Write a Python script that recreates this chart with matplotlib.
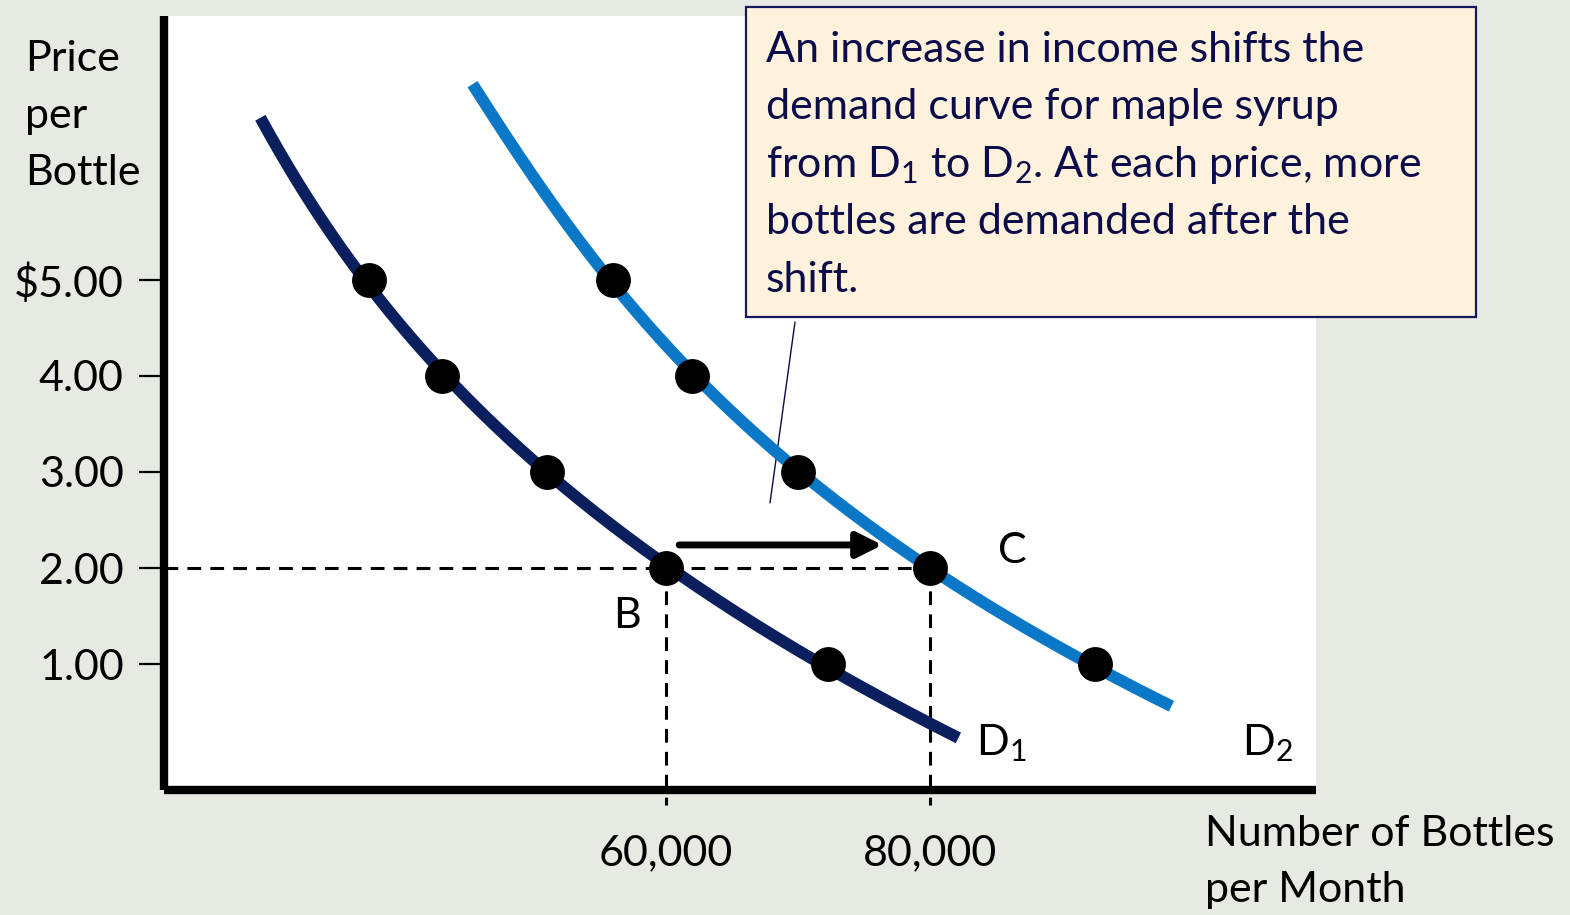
import numpy as np
import matplotlib
matplotlib.use("Agg")
import matplotlib.pyplot as plt
from matplotlib.patches import Rectangle

plt.rcParams['font.family'] = ['Lato', 'DejaVu Sans']
plt.rcParams['mathtext.fontset'] = 'custom'
plt.rcParams['mathtext.rm'] = 'Lato'
plt.rcParams['mathtext.it'] = 'Lato:italic'
plt.rcParams['mathtext.bf'] = 'Lato:bold'

# Demand schedules: price per bottle and bottles demanded per month
prices = [5.0, 4.0, 3.0, 2.0, 1.0]
d1_qty = [37500, 43000, 51000, 60000, 72300]
d2_qty = [56000, 62000, 70000, 80000, 92500]

# Traced shape of each demand curve (price, quantity) from end to end
d1_curve_price = [6.69, 5.0, 4.0, 3.0, 2.0, 1.0, 0.23]
d1_curve_qty = [29200, 37500, 43000, 51000, 60000, 72300, 81900]
d2_curve_price = [7.04, 5.0, 4.0, 3.0, 2.0, 1.0, 0.56]
d2_curve_qty = [45300, 56000, 62000, 70000, 80000, 92500, 98000]

y_ticks = [5.0, 4.0, 3.0, 2.0, 1.0]
y_tick_labels = ['$5.00', '4.00', '3.00', '2.00', '1.00']
x_ticks = [60000, 80000]
x_tick_labels = ['60,000', '80,000']

price_b = 2.0
qty_b = 60000
qty_c = 80000

callout_lines = [
    'An increase in income shifts the',
    'demand curve for maple syrup',
    r'from $\mathrm{D}_1$ to $\mathrm{D}_2$. At each price, more',
    'bottles are demanded after the',
    'shift.',
]

BG = '#e6eae3'
NAVY = '#0b1f5e'
BLUE = '#0a78c6'
TEXT_NAVY = '#0c0c4a'
FS = 31

W, H = 1570, 915
fig = plt.figure(figsize=(W / 100, H / 100), dpi=100, facecolor=BG)

left_px, right_px, bottom_px, top_px = 164, 1316, 790, 16
ax = fig.add_axes([left_px / W, (H - bottom_px) / H,
                   (right_px - left_px) / W, (bottom_px - top_px) / H])
ax.set_facecolor('white')
ax.set_xlim(21970, 109240)
ax.set_ylim(-0.3125, 7.75)

for s in ['top', 'right']:
    ax.spines[s].set_visible(False)
for s in ['left', 'bottom']:
    ax.spines[s].set_linewidth(6)
    ax.spines[s].set_color('black')
    ax.spines[s].set_capstyle('butt')

ax.set_yticks(y_ticks)
ax.set_yticklabels(y_tick_labels)
ax.tick_params(axis='y', length=18, width=1.6, pad=11, labelsize=FS,
               labelcolor='black', color='black')
ax.set_xticks(x_ticks)
ax.set_xticklabels(x_tick_labels)
ax.tick_params(axis='x', length=0, pad=32, labelsize=FS, labelcolor='black')


def smooth_curve(p_pts, q_pts):
    coeffs = np.polyfit(p_pts, q_pts, 3)
    p = np.linspace(max(p_pts), min(p_pts), 300)
    return np.polyval(coeffs, p), p


q1, p1 = smooth_curve(d1_curve_price, d1_curve_qty)
q2, p2 = smooth_curve(d2_curve_price, d2_curve_qty)
ax.plot(q1, p1, color=NAVY, lw=8.5, solid_capstyle='butt', zorder=3)
ax.plot(q2, p2, color=BLUE, lw=8.5, solid_capstyle='butt', zorder=3)

ax.scatter(d1_qty, prices, s=580, color='black', zorder=5)
ax.scatter(d2_qty, prices, s=580, color='black', zorder=5)

# Reference lines at the $2.00 price
dash = (0, (4.5, 3))
ax.plot([ax.get_xlim()[0], qty_c], [price_b, price_b], color='black',
        lw=2.2, linestyle=dash, zorder=2)
for q in (qty_b, qty_c):
    ax.plot([q, q], [price_b, -0.47], color='black', lw=2.2,
            linestyle=dash, zorder=2, clip_on=False)

# Rightward shift arrow
ax.annotate('', xy=(76400, 2.24), xytext=(61000, 2.24),
            arrowprops=dict(arrowstyle='-|>', lw=5, color='black',
                            mutation_scale=38, shrinkA=0, shrinkB=0),
            zorder=4)

ax.text(57050, 1.50, 'B', fontsize=FS, ha='center', va='center')
ax.text(86200, 2.18, 'C', fontsize=FS, ha='center', va='center')
ax.text(83500, 0.17, r'$\mathrm{D}_1$', fontsize=FS, ha='left', va='center')
ax.text(103600, 0.17, r'$\mathrm{D}_2$', fontsize=FS, ha='left', va='center')

# Pointer from the callout to the gap between the curves
ax.plot([69770, 67880], [4.56, 2.68], color=TEXT_NAVY, lw=1.0,
        zorder=2, clip_on=False)

# Axis titles
for i, line in enumerate(['Price', 'per', 'Bottle']):
    fig.text(25 / W, 1 - (59 + 57 * i) / H, line, fontsize=FS,
             ha='left', va='center')
for i, line in enumerate(['Number of Bottles', 'per Month']):
    fig.text(1205 / W, 1 - (834 + 56 * i) / H, line, fontsize=FS,
             ha='left', va='center')

# Callout box
bx0, by0, bx1, by1 = 746, 7, 1476, 317
fig.patches.append(Rectangle((bx0 / W, 1 - by1 / H), (bx1 - bx0) / W,
                             (by1 - by0) / H, transform=fig.transFigure,
                             facecolor='#fff2dc', edgecolor='#17185a',
                             lw=1.6, zorder=10))
for i, line in enumerate(callout_lines):
    fig.text(766 / W, 1 - (62 + 57.5 * i) / H, line, fontsize=FS,
             color=TEXT_NAVY, ha='left', va='baseline', zorder=11)

fig.savefig('out.png', dpi=100, facecolor=BG)
